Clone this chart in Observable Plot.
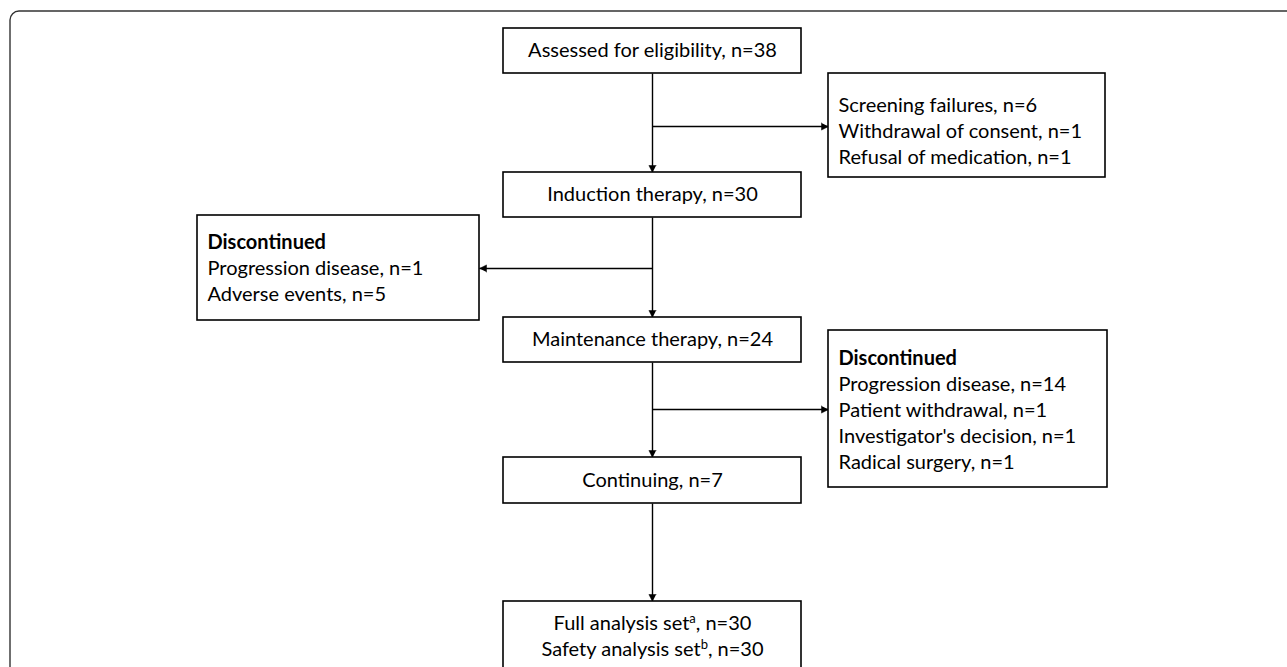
<!DOCTYPE html>
<html>
<head>
<meta charset="utf-8">
<script src="https://cdn.jsdelivr.net/npm/d3@7"></script>
<script src="https://cdn.jsdelivr.net/npm/@observablehq/plot@0.6"></script>
<style>
  html, body { margin: 0; padding: 0; background: #fff; }
  #chart svg { display: block; overflow: hidden; }
</style>
</head>
<body>
<div id="chart"></div>
<script>
// ---------- data ----------
const stageLabels = ["Assessed for eligibility", "Induction therapy", "Maintenance therapy", "Continuing"];
const stageCounts = [38, 30, 24, 7];

const screeningReasons = ["Screening failures", "Withdrawal of consent", "Refusal of medication"];
const screeningCounts = [6, 1, 1];

const discontinuedHeading = "Discontinued";
const inductionDiscReasons = ["Progression disease", "Adverse events"];
const inductionDiscCounts = [1, 5];

const maintenanceDiscReasons = ["Progression disease", "Patient withdrawal", "Investigator's decision", "Radical surgery"];
const maintenanceDiscCounts = [14, 1, 1, 1];

const analysisSets = ["Full analysis set", "Safety analysis set"];
const analysisNotes = ["a", "b"];
const analysisCounts = [30, 30];

// ---------- layout (identity pixel scales) ----------
const W = 1287, H = 667;
const mainCol = {x1: 503, x2: 801};
const cx = (mainCol.x1 + mainCol.x2) / 2;
const mainRows = [
  {y1: 28, y2: 73},
  {y1: 172, y2: 217},
  {y1: 317, y2: 362},
  {y1: 457, y2: 503},
  {y1: 601, y2: 700}
];
const sideBoxes = [
  {x1: 828, x2: 1105, y1: 73, y2: 177, branchY: 126, dir: 1, textCy: 131},
  {x1: 197, x2: 479, y1: 215, y2: 320, branchY: 268, dir: -1, textCy: 268},
  {x1: 828, x2: 1107, y1: 330, y2: 487, branchY: 409, dir: 1, textCy: 410}
];
const lineH = 26, pad = 10, fontSize = 20;

// ---------- build mark data ----------
const fmt = (label, n) => `${label}, n=${n}`;

const boxes = [
  ...mainRows.map(r => ({x1: mainCol.x1, x2: mainCol.x2, y1: r.y1, y2: r.y2})),
  ...sideBoxes.map(b => ({x1: b.x1, x2: b.x2, y1: b.y1, y2: b.y2}))
];

const centerText = stageLabels.map((s, i) => ({
  x: cx, y: (mainRows[i].y1 + mainRows[i].y2) / 2, text: fmt(s, stageCounts[i])
}));
const aCy = 636;
analysisSets.forEach((s, i) => {
  centerText.push({
    x: cx, y: aCy + (i - (analysisSets.length - 1) / 2) * lineH,
    text: fmt(`${s}^${analysisNotes[i]}`, analysisCounts[i])
  });
});

const sideContent = [
  {heading: null, lines: screeningReasons.map((r, i) => fmt(r, screeningCounts[i]))},
  {heading: discontinuedHeading, lines: inductionDiscReasons.map((r, i) => fmt(r, inductionDiscCounts[i]))},
  {heading: discontinuedHeading, lines: maintenanceDiscReasons.map((r, i) => fmt(r, maintenanceDiscCounts[i]))}
];
const leftText = [], boldText = [];
sideContent.forEach((c, k) => {
  const b = sideBoxes[k];
  const all = (c.heading ? [c.heading] : []).concat(c.lines);
  all.forEach((t, i) => {
    const row = {x: b.x1 + pad, y: b.textCy + (i - (all.length - 1) / 2) * lineH, text: t};
    if (c.heading && i === 0) boldText.push(row); else leftText.push(row);
  });
});

const connectors = [];
for (let i = 0; i < mainRows.length - 1; i++) {
  connectors.push({x1: cx, y1: mainRows[i].y2, x2: cx, y2: mainRows[i + 1].y1});
}
sideBoxes.forEach(b => {
  connectors.push({x1: cx, y1: b.branchY, x2: b.dir > 0 ? b.x1 : b.x2, y2: b.branchY});
});

const headL = 7, headW = 3.6;
const heads = [];
connectors.forEach((c, id) => {
  const dx = c.x2 - c.x1, dy = c.y2 - c.y1, len = Math.hypot(dx, dy);
  const ux = dx / len, uy = dy / len, nx = -uy, ny = ux;
  const bx = c.x2 - ux * headL, by = c.y2 - uy * headL;
  heads.push({id, x: c.x2, y: c.y2});
  heads.push({id, x: bx + nx * headW, y: by + ny * headW});
  heads.push({id, x: bx - nx * headW, y: by - ny * headW});
});

const frame = [{x1: 10, y1: 11, x2: W + 30, y2: H + 30}];

// ---------- plot ----------
const plot = Plot.plot({
  width: W, height: H,
  margin: 0,
  x: {type: "linear", domain: [0, W], range: [0, W], axis: null},
  y: {type: "linear", domain: [0, H], range: [0, H], axis: null},
  style: {fontFamily: "Lato, 'Open Sans', sans-serif", fontSize: fontSize + "px", background: "white", color: "black", overflow: "hidden"},
  marks: [
    Plot.rect(frame, {x1: "x1", x2: "x2", y1: "y1", y2: "y2", fill: "none", stroke: "#333", strokeWidth: 1.4, rx: 9}),
    Plot.link(connectors, {x1: "x1", y1: "y1", x2: "x2", y2: "y2", stroke: "black", strokeWidth: 1.4}),
    Plot.line(heads, {x: "x", y: "y", z: "id", fill: "black", stroke: "black", strokeWidth: 0.5, strokeLinejoin: "miter"}),
    Plot.rect(boxes, {x1: "x1", x2: "x2", y1: "y1", y2: "y2", fill: "white", stroke: "black", strokeWidth: 1.6}),
    Plot.text(centerText, {x: "x", y: "y", text: "text", textAnchor: "middle", fontSize, fill: "black"}),
    Plot.text(leftText, {x: "x", y: "y", text: "text", textAnchor: "start", fontSize, fill: "black"}),
    Plot.text(boldText, {x: "x", y: "y", text: "text", textAnchor: "start", fontSize, fontWeight: "bold", fill: "black"})
  ]
});

// superscripts (marked with ^)
const ns = "http://www.w3.org/2000/svg";
plot.querySelectorAll("text").forEach(t => {
  const m = t.textContent.match(/^(.*)\^(\w)(.*)$/);
  if (!m) return;
  t.textContent = "";
  const a = document.createElementNS(ns, "tspan"); a.textContent = m[1];
  const b = document.createElementNS(ns, "tspan"); b.textContent = m[2];
  b.setAttribute("font-size", "13"); b.setAttribute("dy", "-7");
  const c = document.createElementNS(ns, "tspan"); c.textContent = m[3];
  c.setAttribute("dy", "7");
  t.append(a, b, c);
});

document.getElementById("chart").appendChild(plot);
</script>
</body>
</html>
